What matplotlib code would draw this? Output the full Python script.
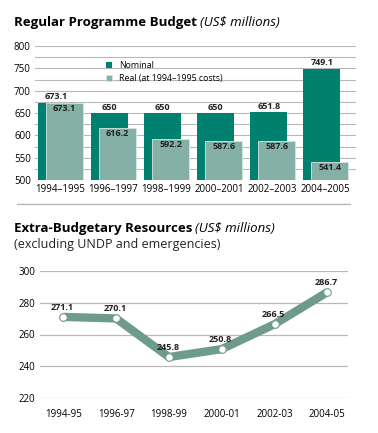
import matplotlib.pyplot as plt
import numpy as np
from matplotlib.lines import Line2D

plt.rcParams['font.family'] = ['Open Sans', 'DejaVu Sans']

# data
periods = ['1994–1995', '1996–1997', '1998–1999', '2000–2001', '2002–2003', '2004–2005']
nominal = [673.1, 650, 650, 650, 651.8, 749.1]
real = [673.1, 616.2, 592.2, 587.6, 587.6, 541.4]
nominal_lbl = ['673.1', '650', '650', '650', '651.8', '749.1']
real_lbl = ['673.1', '616.2', '592.2', '587.6', '587.6', '541.4']

xb_periods = ['1994-95', '1996-97', '1998-99', '2000-01', '2002-03', '2004-05']
xb_values = [271.1, 270.1, 245.8, 250.8, 266.5, 286.7]

dark = '#00806e'
light = '#85b0a6'
linec = '#6f9b8c'
grid = '#b8b8b8'

W, H = 378, 433
fig = plt.figure(figsize=(W / 100, H / 100), dpi=100)

def px(x0, y0, x1, y1):
    return [x0 / W, 1 - y1 / H, (x1 - x0) / W, (y1 - y0) / H]

def title(x, y, bold, ital):
    t = fig.text(x / W, 1 - y / H, bold, fontsize=9.5, fontweight='bold', va='baseline')
    fig.canvas.draw()
    bb = t.get_window_extent()
    fig.text(bb.x1 / W + 0.008, 1 - y / H, ital, fontsize=9.5, style='italic', va='baseline')

# ---- top chart ----
ax = fig.add_axes(px(35, 46, 356, 180))
x = np.arange(len(periods))
w = 0.7
off = 0.075
for yv in np.arange(500, 801, 25):
    ax.axhline(yv, color=grid, lw=0.8, zorder=0)
ax.bar(x - off, nominal, width=w, bottom=0, color=dark, zorder=2, label='Nominal')
ax.bar(x + off, real, width=w, color=light, edgecolor='#d8e6e2', linewidth=0.6, zorder=3,
       label='Real (at 1994–1995 costs)')
for i in range(len(periods)):
    ax.text(x[i] - off, nominal[i] + 3, nominal_lbl[i], ha='center', va='bottom',
            fontsize=6.5, fontweight='bold', color='#222222')
    ax.text(x[i] + off, real[i] - 3, real_lbl[i], ha='center', va='top',
            fontsize=6.5, fontweight='bold', color='#222222', zorder=4)
ax.set_ylim(500, 800)
ax.set_xlim(-0.48, 5.57)
ax.set_yticks(np.arange(500, 801, 50))
ax.set_xticks(x)
ax.set_xticklabels(periods)
ax.tick_params(length=0, labelsize=7, pad=3)
for s in ax.spines.values():
    s.set_visible(False)
ax.legend(loc='upper left', bbox_to_anchor=(0.21, 0.915), frameon=False, fontsize=6.3,
          handlelength=0.7, handleheight=0.7, handletextpad=0.8, labelspacing=0.45,
          borderaxespad=0)

title(14, 26, 'Regular Programme Budget', '(US$ millions)')

fig.add_artist(Line2D([17 / W, 350 / W], [1 - 204 / H, 1 - 204 / H], color=grid, lw=1))

# ---- bottom chart ----
title(14, 232, 'Extra-Budgetary Resources', '(US$ millions)')
fig.text(14 / W, 1 - 248 / H, '(excluding UNDP and emergencies)', fontsize=9, va='baseline',
         color='#222222')

ax2 = fig.add_axes(px(40, 271, 348, 398))
x2 = np.arange(len(xb_periods))
for yv in np.arange(220, 301, 20):
    ax2.axhline(yv, color=grid, lw=0.9, zorder=0)
ax2.plot(x2, xb_values, color=linec, lw=6, solid_capstyle='butt', zorder=2)
ax2.plot(x2, xb_values, 'o', ms=5.5, mfc='white', mec=linec, mew=0.8, zorder=3)
for i in range(len(xb_periods)):
    ax2.text(x2[i] - 0.02, xb_values[i] + 3.2, f'{xb_values[i]:.1f}', ha='center', va='bottom',
             fontsize=6.5, fontweight='bold', color='#222222')
ax2.set_ylim(220, 300)
ax2.set_xlim(-0.44, 5.39)
ax2.set_yticks(np.arange(220, 301, 20))
ax2.set_xticks(x2)
ax2.set_xticklabels(xb_periods)
ax2.tick_params(length=0, labelsize=7)
ax2.tick_params(axis='x', pad=8)
for s in ax2.spines.values():
    s.set_visible(False)

fig.savefig('out.png', dpi=100)
